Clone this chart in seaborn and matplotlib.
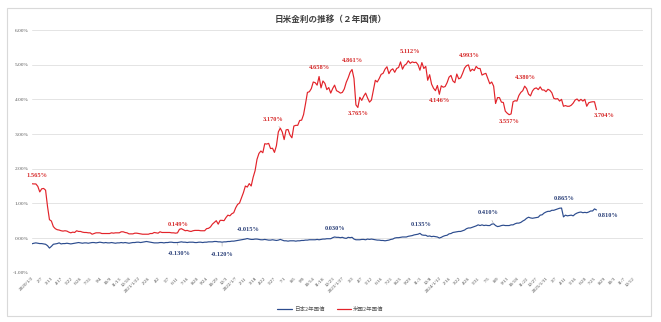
import numpy as np
import pandas as pd
import matplotlib
matplotlib.use("Agg")
import matplotlib.pyplot as plt
from matplotlib.patches import Rectangle
import seaborn as sns

# Weekly 2-year government bond yields (%), first week = 2020/1/2
us_2020 = [1.565, 1.56, 1.56, 1.49, 1.33, 1.42, 1.43, 1.38, 0.91, 0.53,
           0.49, 0.33, 0.27, 0.24, 0.23, 0.21, 0.20, 0.21, 0.20, 0.17,
           0.15, 0.17, 0.16, 0.21, 0.19, 0.19, 0.17, 0.16, 0.16, 0.15,
           0.15, 0.11, 0.13, 0.15, 0.15, 0.15, 0.13, 0.13, 0.13, 0.13,
           0.13, 0.15, 0.14, 0.15, 0.15, 0.15, 0.18, 0.18, 0.16, 0.15,
           0.12, 0.12]
us_2021 = [0.12, 0.14, 0.14, 0.13, 0.12, 0.11, 0.11, 0.11, 0.11, 0.13,
           0.13, 0.16, 0.15, 0.14, 0.18, 0.16, 0.16, 0.16, 0.16, 0.16,
           0.15, 0.15, 0.14, 0.149, 0.25, 0.27, 0.24, 0.21, 0.22, 0.20,
           0.19, 0.21, 0.22, 0.22, 0.22, 0.21, 0.21, 0.21, 0.27, 0.28,
           0.32, 0.40, 0.45, 0.50, 0.40, 0.51, 0.51, 0.50, 0.59, 0.66,
           0.64, 0.70, 0.73]
us_2022 = [0.87, 0.97, 1.01, 1.16, 1.31, 1.50, 1.47, 1.57, 1.50, 1.75,
           1.94, 2.27, 2.44, 2.51, 2.46, 2.72, 2.71, 2.73, 2.58, 2.59,
           2.47, 2.66, 3.06, 3.17, 3.06, 2.84, 3.12, 3.13, 2.97, 2.89,
           3.23, 3.25, 3.25, 3.39, 3.40, 3.56, 3.87, 4.20, 4.22, 4.31,
           4.50, 4.48, 4.41, 4.658, 4.33, 4.53, 4.46, 4.28, 4.34, 4.18,
           4.31, 4.41]
us_2023 = [4.25, 4.22, 4.18, 4.20, 4.30, 4.49, 4.62, 4.78, 4.861, 4.60,
           3.84, 3.765, 4.06, 3.97, 4.09, 4.18, 4.04, 3.92, 3.98, 4.27,
           4.55, 4.50, 4.60, 4.72, 4.75, 4.87, 4.94, 4.74, 4.84, 4.88,
           4.78, 4.89, 4.92, 5.08, 4.87, 4.98, 5.02, 5.112, 5.04, 5.08,
           5.06, 5.07, 5.00, 4.84, 5.06, 4.89, 4.95, 4.55, 4.71, 4.44,
           4.32, 4.25]
us_2024 = [4.40, 4.146, 4.39, 4.35, 4.37, 4.48, 4.64, 4.69, 4.53, 4.48,
           4.73, 4.59, 4.62, 4.75, 4.90, 4.97, 4.993, 4.81, 4.87, 4.83,
           4.95, 4.89, 4.89, 4.70, 4.73, 4.75, 4.60, 4.45, 4.50, 4.38,
           3.88, 4.05, 4.05, 3.92, 3.91, 3.66, 3.60, 3.557, 3.58, 3.93,
           3.96, 3.95, 4.11, 4.20, 4.25, 4.380, 4.31, 4.15, 4.10, 4.24,
           4.31, 4.33]
us_2025 = [4.28, 4.36, 4.27, 4.27, 4.22, 4.29, 4.26, 4.19, 4.03, 4.01,
           4.02, 3.95, 4.00, 3.80, 3.82, 3.80, 3.80, 3.83, 3.89, 3.98,
           4.01, 3.95, 4.00, 3.95, 4.00, 3.80, 3.90, 3.92, 3.93, 3.93,
           3.704]

jp_2020 = [-0.165, -0.15, -0.14, -0.15, -0.16, -0.16, -0.17, -0.18, -0.22, -0.29,
           -0.24, -0.18, -0.17, -0.16, -0.14, -0.17, -0.16, -0.16, -0.15, -0.16,
           -0.17, -0.16, -0.15, -0.14, -0.13, -0.14, -0.15, -0.14, -0.14, -0.15,
           -0.14, -0.13, -0.13, -0.14, -0.13, -0.12, -0.13, -0.14, -0.13, -0.14,
           -0.14, -0.13, -0.14, -0.15, -0.14, -0.14, -0.13, -0.14, -0.13, -0.14,
           -0.15, -0.14]
jp_2021 = [-0.13, -0.13, -0.12, -0.12, -0.13, -0.12, -0.11, -0.10, -0.11, -0.12,
           -0.13, -0.14, -0.14, -0.14, -0.13, -0.13, -0.14, -0.13, -0.13, -0.12,
           -0.12, -0.13, -0.13, -0.130, -0.12, -0.11, -0.12, -0.12, -0.13, -0.12,
           -0.12, -0.12, -0.13, -0.13, -0.12, -0.12, -0.13, -0.12, -0.12, -0.11,
           -0.11, -0.11, -0.10, -0.10, -0.11, -0.11, -0.120, -0.11, -0.11, -0.10,
           -0.10, -0.09, -0.09]
jp_2022 = [-0.08, -0.07, -0.06, -0.05, -0.04, -0.03, -0.015, -0.03, -0.04, -0.04,
           -0.03, -0.03, -0.04, -0.05, -0.05, -0.04, -0.05, -0.06, -0.06, -0.05,
           -0.06, -0.07, -0.06, -0.04, -0.06, -0.08, -0.08, -0.09, -0.08, -0.08,
           -0.08, -0.09, -0.08, -0.08, -0.07, -0.07, -0.06, -0.06, -0.05, -0.05,
           -0.05, -0.05, -0.04, -0.05, -0.04, -0.03, -0.03, -0.02, -0.02, -0.02,
           0.01, 0.030]
jp_2023 = [0.02, 0.02, 0.01, 0.02, 0.00, -0.01, 0.02, 0.01, 0.02, -0.03,
           -0.05, -0.05, -0.05, -0.04, -0.04, -0.05, -0.03, -0.04, -0.03, -0.04,
           -0.05, -0.06, -0.06, -0.07, -0.07, -0.08, -0.07, -0.06, -0.04, -0.03,
           0.00, 0.01, 0.01, 0.02, 0.03, 0.03, 0.03, 0.05, 0.06, 0.07,
           0.09, 0.10, 0.11, 0.135, 0.09, 0.08, 0.08, 0.05, 0.06, 0.04,
           0.05, 0.04]
jp_2024 = [0.03, 0.00, 0.02, 0.05, 0.07, 0.08, 0.12, 0.13, 0.16, 0.17,
           0.18, 0.19, 0.19, 0.21, 0.23, 0.27, 0.29, 0.29, 0.31, 0.33,
           0.35, 0.38, 0.36, 0.38, 0.36, 0.37, 0.36, 0.36, 0.40, 0.410,
           0.36, 0.33, 0.34, 0.36, 0.37, 0.36, 0.36, 0.36, 0.38, 0.38,
           0.41, 0.43, 0.43, 0.45, 0.49, 0.52, 0.57, 0.60, 0.58, 0.57,
           0.58, 0.59]
jp_2025 = [0.60, 0.66, 0.67, 0.72, 0.75, 0.77, 0.77, 0.80, 0.80, 0.82,
           0.84, 0.86, 0.865, 0.61, 0.66, 0.64, 0.65, 0.66, 0.64, 0.69,
           0.72, 0.74, 0.75, 0.73, 0.74, 0.73, 0.75, 0.78, 0.78, 0.84,
           0.810]

# Category axis: one slot per week, a date label every fifth week
n_weeks = 316
tick_step = 5
tick_labels = ["2020/1/2", "2/7", "3/13", "4/17", "5/22", "6/26", "7/31", "9/4", "10/9", "11/13", "12/18",
               "2021/1/22", "2/26", "4/2", "5/7", "6/11", "7/16", "8/20", "9/24", "10/29", "12/3",
               "2022/1/7", "2/11", "3/18", "4/22", "5/27", "7/1", "8/5", "9/9", "10/14", "11/18", "12/23",
               "2023/1/27", "3/3", "4/7", "5/12", "6/16", "7/21", "8/25", "9/29", "11/3", "12/8",
               "2024/1/12", "2/16", "3/22", "4/26", "5/31", "7/5", "8/9", "9/13", "10/18", "11/22", "12/27",
               "2025/1/31", "3/7", "4/11", "5/16", "6/20", "7/25", "8/29", "10/3", "11/7", "12/12"]

series_jp = "日本2年国債"
series_us = "米国2年国債"

us = us_2020 + us_2021 + us_2022 + us_2023 + us_2024 + us_2025
jp = jp_2020 + jp_2021 + jp_2022 + jp_2023 + jp_2024 + jp_2025

df = pd.concat([
    pd.DataFrame({"week": np.arange(len(jp)), "rate": jp, "series": series_jp}),
    pd.DataFrame({"week": np.arange(len(us)), "rate": us, "series": series_us}),
], ignore_index=True)

# Labelled points: (week index, x offset pt, y offset pt, leader line)
us_marks = [(0, 3.5, 6.0, False), (75, 0.3, 5.8, False), (128, -5.5, 6.5, True),
            (148, 0.6, 6.8, False), (165, 0.6, 6.2, False), (168, 0, -4.3, False),
            (194, 1.0, 6.6, False), (210, 0, -4.3, False), (225, 0.8, 6.5, False),
            (246, 0.2, -4.6, False), (254, 0.8, 6.6, False), (291, 5.5, -4.5, False)]
jp_marks = [(75, 1.0, -7.6, True), (98, 0, -8.6, True), (111, 0.5, 6.3, False),
            (156, 0.6, 6.0, False), (200, 0.7, 6.2, False), (238, -4.0, 8.0, True),
            (273, 1.7, 6.8, False), (291, 8.5, -3.8, False)]

red_line = "#E2232A"
blue_line = "#2C4C8E"
red_text = "#D62A2A"
blue_text = "#2A3F78"
grid_col = "#E4E4E4"
tick_col = "#595959"

sns.set_theme(style="white")
plt.rcParams["font.family"] = ["Noto Sans CJK JP", "DejaVu Sans"]

fig = plt.figure(figsize=(6.61, 3.22), dpi=100)
ax = fig.add_axes([32 / 661, 1 - 272.7 / 322, (643 - 32) / 661, (272.7 - 30) / 322])

sns.lineplot(data=df, x="week", y="rate", hue="series",
             hue_order=[series_jp, series_us],
             palette={series_jp: blue_line, series_us: red_line},
             linewidth=0.85, ax=ax)

ax.set_xlim(0, n_weeks - 1)
ax.set_ylim(-1, 6)
ax.set_yticks(np.arange(-1, 7, 1))
ax.set_yticklabels([f"{t:.2f}%" for t in np.arange(-1, 7, 1)],
                   fontsize=3.9, color=tick_col, family=["Liberation Serif"])
ax.set_xticks(np.arange(len(tick_labels)) * tick_step)
ax.set_xticklabels(tick_labels, rotation=45, ha="right", va="top",
                   rotation_mode="anchor", fontsize=3.7, color="#4D4D4D",
                   family=["Liberation Serif"])
ax.tick_params(axis="both", length=0, pad=2.5)
ax.set_xlabel("")
ax.set_ylabel("")
ax.grid(axis="y", color=grid_col, linewidth=0.7)
ax.grid(axis="x", visible=False)
for s in ax.spines.values():
    s.set_visible(False)


def label_points(values, marks, colour):
    for w, dx, dy, leader in marks:
        v = values[w]
        kw = {}
        if leader:
            kw["arrowprops"] = dict(arrowstyle="-", color="#A6A6A6", lw=0.4,
                                    shrinkA=1.5, shrinkB=0.5)
        ax.annotate(f"{v:.3f}%", xy=(w, v), xytext=(dx, dy),
                    textcoords="offset points", ha="center", va="center",
                    fontsize=4.6, fontweight="bold", color=colour,
                    family=["Liberation Serif"], **kw)


label_points(us, us_marks, red_text)
label_points(jp, jp_marks, blue_text)

fig.text(0.5, 1 - 19 / 322, "日米金利の推移（２年国債）", ha="center", va="center",
         fontsize=6.2, color="#404040", fontweight="bold")

sns.move_legend(ax, "center", bbox_to_anchor=(0.5, 1 - 309 / 322),
                bbox_transform=fig.transFigure, ncol=2, frameon=False,
                fontsize=4, title=None, handlelength=2.6, columnspacing=2.2,
                handletextpad=0.4)
for line in ax.get_legend().get_lines():
    line.set_linewidth(0.9)
for t in ax.get_legend().get_texts():
    t.set_color(tick_col)

fig.patches.append(Rectangle((7 / 661, 1 - 316 / 322), (651 - 7) / 661, (316 - 8) / 322,
                             transform=fig.transFigure, fill=False,
                             edgecolor="#D9D9D9", linewidth=0.8))

fig.savefig("out.png", dpi=100, facecolor="white")
